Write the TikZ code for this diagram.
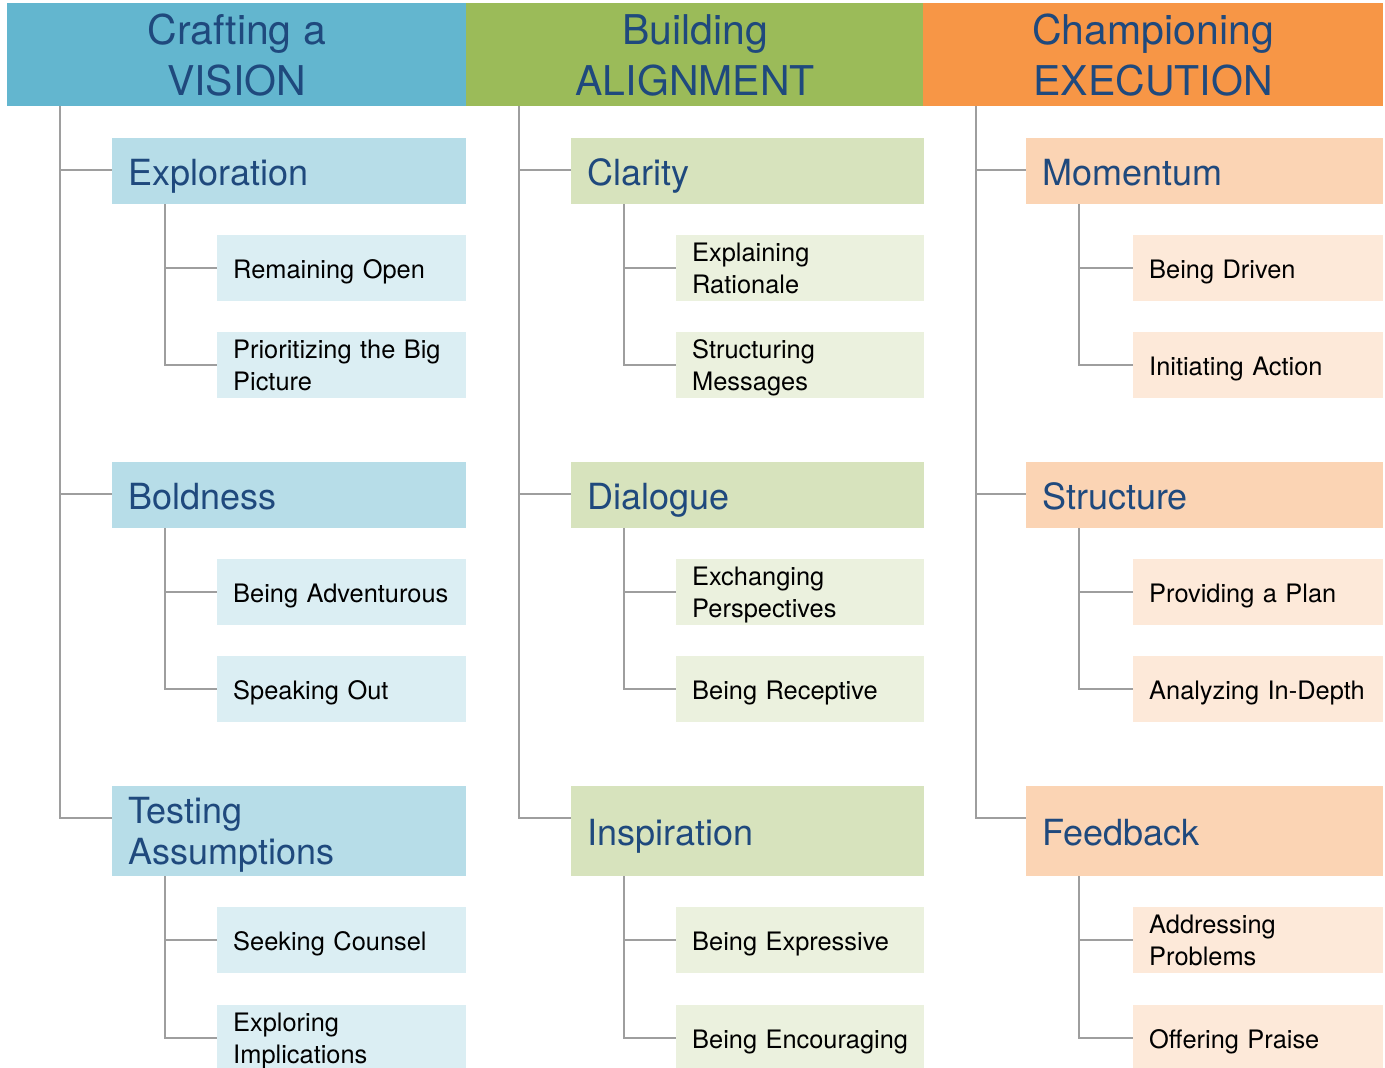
\documentclass[tikz,border=0pt]{standalone}
\usepackage{fontspec}
\setmainfont{TeX Gyre Heros}
\definecolor{hblue}{RGB}{99,182,207}
\definecolor{hgreen}{RGB}{155,187,89}
\definecolor{horange}{RGB}{247,150,70}
\definecolor{mblue}{RGB}{183,221,232}
\definecolor{mgreen}{RGB}{215,227,189}
\definecolor{morange}{RGB}{251,212,180}
\definecolor{lblue}{RGB}{219,238,243}
\definecolor{lgreen}{RGB}{235,241,222}
\definecolor{lorange}{RGB}{253,233,217}
\definecolor{txtblue}{RGB}{31,73,125}
\definecolor{lngray}{RGB}{158,158,158}
\begin{document}
\begin{tikzpicture}[x=1pt,y=-1pt,
  hdr/.style={anchor=north west, inner sep=0pt, minimum height=103pt, align=center, text=txtblue, text depth=-4pt, font=\fontsize{41}{51}\selectfont},
  lvtwo/.style={anchor=north west, inner xsep=16pt, inner ysep=0pt, align=left, text=txtblue, font=\fontsize{36}{41}\selectfont},
  lvthree/.style={anchor=north west, inner xsep=16pt, inner ysep=0pt, minimum height=66pt, align=left, text=black, font=\fontsize{25.4}{32}\selectfont},
  onetwo/.style={text height=28.8pt, text depth=0pt},
  twotwo/.style={text depth=41pt},
  onethree/.style={text height=20.3pt, text depth=0pt},
  twothree/.style={text depth=32pt},
  conn/.style={draw=lngray, line width=1.5pt}]
\useasboundingbox (0,0) rectangle (1385,1068);
% headers
\node[hdr, fill=hblue, minimum width=459pt] (hA) at (7,3) {Crafting a\\VISION};
\node[hdr, fill=hgreen, minimum width=458pt] (hB) at (466,3) {Building\\ALIGNMENT};
\node[hdr, fill=horange, minimum width=460pt] (hC) at (923,3) {Championing\\EXECUTION};
% column 1
\node[lvtwo, onetwo, fill=mblue, text width=322pt, minimum height=66pt] (a1) at (112,138) {Exploration};
\node[lvtwo, onetwo, fill=mblue, text width=322pt, minimum height=66pt] (a2) at (112,462) {Boldness};
\node[lvtwo, twotwo, fill=mblue, text width=322pt, minimum height=90pt] (a3) at (112,786) {Testing\\Assumptions};
\node[lvthree, onethree, fill=lblue, text width=217pt] (a11) at (217,235) {Remaining Open};
\node[lvthree, twothree, fill=lblue, text width=217pt] (a12) at (217,332) {Prioritizing the Big\\Picture};
\node[lvthree, onethree, fill=lblue, text width=217pt] (a21) at (217,559) {Being Adventurous};
\node[lvthree, onethree, fill=lblue, text width=217pt] (a22) at (217,656) {Speaking Out};
\node[lvthree, onethree, fill=lblue, text width=217pt] (a31) at (217,907) {Seeking Counsel};
\node[lvthree, twothree, fill=lblue, text width=217pt] (a32) at (217,1005) {Exploring\\Implications};
% column 2
\node[lvtwo, onetwo, fill=mgreen, text width=321pt, minimum height=66pt] (b1) at (571,138) {Clarity};
\node[lvtwo, onetwo, fill=mgreen, text width=321pt, minimum height=66pt] (b2) at (571,462) {Dialogue};
\node[lvtwo, onetwo, fill=mgreen, text width=321pt, minimum height=90pt] (b3) at (571,786) {Inspiration};
\node[lvthree, twothree, fill=lgreen, text width=216pt] (b11) at (676,235) {Explaining\\Rationale};
\node[lvthree, twothree, fill=lgreen, text width=216pt] (b12) at (676,332) {Structuring\\Messages};
\node[lvthree, twothree, fill=lgreen, text width=216pt] (b21) at (676,559) {Exchanging\\Perspectives};
\node[lvthree, onethree, fill=lgreen, text width=216pt] (b22) at (676,656) {Being Receptive};
\node[lvthree, onethree, fill=lgreen, text width=216pt] (b31) at (676,907) {Being Expressive};
\node[lvthree, onethree, fill=lgreen, text width=216pt] (b32) at (676,1005) {Being Encouraging};
% column 3
\node[lvtwo, onetwo, fill=morange, text width=325pt, minimum height=66pt] (c1) at (1026,138) {Momentum};
\node[lvtwo, onetwo, fill=morange, text width=325pt, minimum height=66pt] (c2) at (1026,462) {Structure};
\node[lvtwo, onetwo, fill=morange, text width=325pt, minimum height=90pt] (c3) at (1026,786) {Feedback};
\node[lvthree, onethree, fill=lorange, text width=218pt] (c11) at (1133,235) {Being Driven};
\node[lvthree, onethree, fill=lorange, text width=218pt] (c12) at (1133,332) {Initiating Action};
\node[lvthree, onethree, fill=lorange, text width=218pt] (c21) at (1133,559) {Providing a Plan};
\node[lvthree, onethree, fill=lorange, text width=218pt] (c22) at (1133,656) {Analyzing In-Depth};
\node[lvthree, twothree, fill=lorange, text width=218pt] (c31) at (1133,907) {Addressing\\Problems};
\node[lvthree, onethree, fill=lorange, text width=218pt] (c32) at (1133,1005) {Offering Praise};
% connectors: header to level 2
\foreach \h/\k in {hA/a,hB/b,hC/c}{
  \foreach \i in {1,2,3}{
    \draw[conn] ([xshift=53pt]\h.south west) |- ([yshift=-32pt]\k\i.north west);
  }
}
% level 2 to level 3
\foreach \k in {a,b,c}{
  \foreach \i in {1,2,3}{
    \foreach \j in {1,2}{
      \draw[conn] ([xshift=53pt]\k\i.south west) |- ([yshift=-33pt]\k\i\j.north west);
    }
  }
}
\end{tikzpicture}
\end{document}
